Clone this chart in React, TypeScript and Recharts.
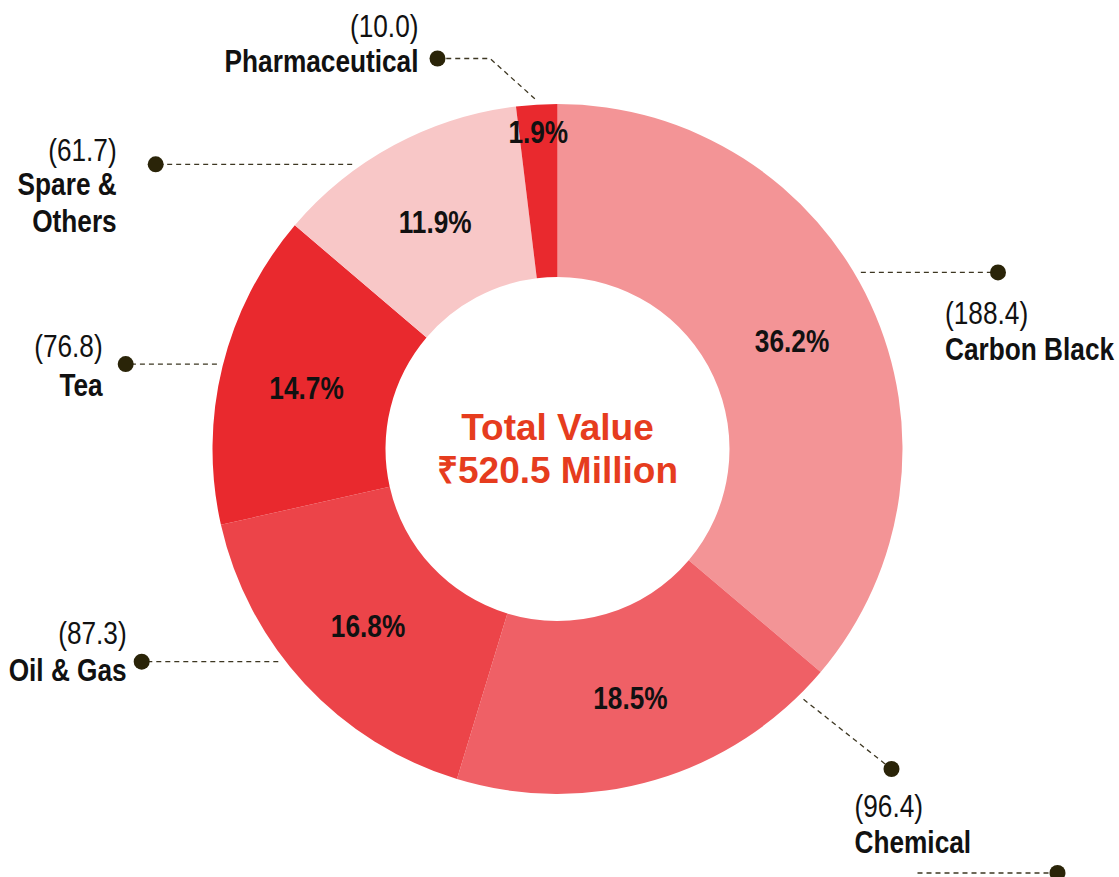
import React from "react";
import { PieChart, Pie, Cell } from "recharts";

const categories = ["Carbon Black", "Chemical", "Oil & Gas", "Tea", "Spare & Others", "Pharmaceutical"];
const values = [188.4, 96.4, 87.3, 76.8, 61.7, 10.0];
const shareLabels = ["36.2%", "18.5%", "16.8%", "14.7%", "11.9%", "1.9%"];
const nameLines = [["Carbon Black"], ["Chemical"], ["Oil & Gas"], ["Tea"], ["Spare &", "Others"], ["Pharmaceutical"]];
const colors = ["#F39496", "#EF6066", "#EC4449", "#E9292E", "#F8C7C7", "#E9292E"];
const totalLabel = ["Total Value", "₹520.5 Million"];

const data = categories.map((name, i) => ({ name, value: values[i] }));

// Annotation layout (leader lines / label placement), relative to the pie centre
type Layout = {
  angle: number;
  dot: [number, number | null];
  elbowDx?: number;
  textDx: number;
  anchor: "start" | "end";
  valueDy: number;
  nameDy: number;
  shareR?: number;
};
const layouts: Layout[] = [
  { angle: 30.2, dot: [440.5, null], textDx: -53, anchor: "start", valueDy: 52, nameDy: 88 },
  { angle: -45.5, dot: [334, 320], textDx: -37, anchor: "start", valueDy: 48, nameDy: 84 },
  { angle: -142.7, dot: [-415.8, null], textDx: -15, anchor: "end", valueDy: -18, nameDy: 19 },
  { angle: 166, dot: [-431.8, null], textDx: -23, anchor: "end", valueDy: -7, nameDy: 32 },
  { angle: 125.8, dot: [-401.8, null], textDx: -39, anchor: "end", valueDy: -3, nameDy: 31 },
  { angle: 93.7, dot: [-120, -390.5], elbowDx: -67.5, textDx: -19, anchor: "end", valueDy: -22, nameDy: 13, shareR: 319 },
];

const RAD = Math.PI / 180;
const FONT = "'Liberation Sans', Arial, sans-serif";
const NARROW = 0.82;
const LINE = "#3d3722";
const DOT = "#2a2408";

const NarrowText = ({ x, y, anchor, bold, children, central }: any) => (
  <g transform={`translate(${x},${y}) scale(${NARROW},1)`}>
    <text
      x={0}
      y={0}
      textAnchor={anchor}
      dominantBaseline={central ? "central" : undefined}
      fontFamily={FONT}
      fontWeight={bold ? "bold" : "normal"}
      fontSize={32}
      fill="#111"
    >
      {children}
    </text>
  </g>
);

const renderLabel = (props: any) => {
  const { cx, cy, midAngle, innerRadius, outerRadius, index } = props;
  const L = layouts[index];
  const rMid = L.shareR ?? (innerRadius + outerRadius) / 2;
  const px = cx + rMid * Math.cos(-midAngle * RAD);
  const py = cy + rMid * Math.sin(-midAngle * RAD);
  const rs = outerRadius + 6;
  const sx = cx + rs * Math.cos(-L.angle * RAD);
  const sy = cy + rs * Math.sin(-L.angle * RAD);
  const dx = cx + L.dot[0];
  const dy = L.dot[1] === null ? sy : cy + L.dot[1];
  const pts = L.elbowDx !== undefined ? `${sx},${sy} ${cx + L.elbowDx},${dy} ${dx},${dy}` : `${sx},${sy} ${dx},${dy}`;
  const lines = nameLines[index];
  return (
    <g key={`lbl-${index}`}>
      <NarrowText x={px} y={py + 1} anchor="middle" bold central>
        {shareLabels[index]}
      </NarrowText>
      <polyline points={pts} fill="none" stroke={LINE} strokeWidth={1.3} strokeDasharray="5 4" />
      <circle cx={dx} cy={dy} r={8} fill={DOT} />
      <NarrowText x={dx + L.textDx} y={dy + L.valueDy} anchor={L.anchor}>
        ({values[index].toFixed(1)})
      </NarrowText>
      {lines.map((ln, k) => (
        <NarrowText key={k} x={dx + L.textDx} y={dy + L.nameDy + k * 37} anchor={L.anchor} bold>
          {ln}
        </NarrowText>
      ))}
      {index === 0 && (
        <g>
          <text x={cx} y={cy - 9} textAnchor="middle" fontFamily={FONT} fontWeight="bold" fontSize={37} fill="#E63C1E">
            {totalLabel[0]}
          </text>
          <text x={cx} y={cy + 34} textAnchor="middle" fontFamily={FONT} fontWeight="bold" fontSize={37} fill="#E63C1E">
            {totalLabel[1]}
          </text>
          <line x1={cx + 360} y1={cy + 424} x2={cx + 492} y2={cy + 424} stroke={LINE} strokeWidth={1.3} strokeDasharray="5 4" />
          <circle cx={cx + 500} cy={cy + 424} r={8} fill={DOT} />
        </g>
      )}
    </g>
  );
};

export default function App() {
  return (
    <div style={{ position: "absolute", left: 0, top: 0, width: 1119, height: 877, background: "#fff" }}>
      <PieChart width={1119} height={877} margin={{ top: 0, right: 0, bottom: 0, left: 0 }}>
        <Pie
          data={data}
          dataKey="value"
          nameKey="name"
          cx={557.5}
          cy={449}
          innerRadius={172}
          outerRadius={345}
          startAngle={90}
          endAngle={-270}
          stroke="none"
          label={renderLabel}
          labelLine={false}
          isAnimationActive={false}
        >
          {data.map((d, i) => (
            <Cell key={d.name} fill={colors[i]} />
          ))}
        </Pie>
      </PieChart>
    </div>
  );
}
